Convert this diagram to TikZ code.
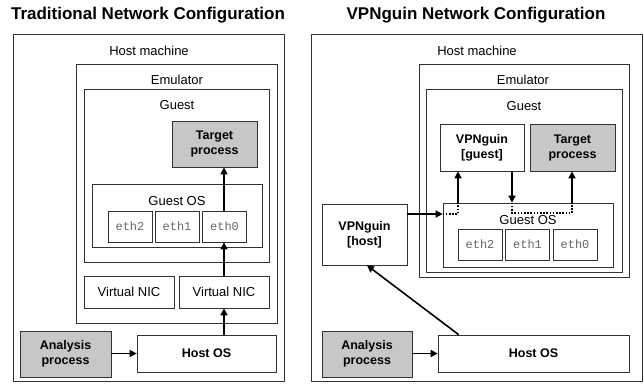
\documentclass[tikz,border=0pt]{standalone}
\usepackage{fontspec}
\setmainfont{Liberation Sans}
\setmonofont{Liberation Mono}
\usepackage{tikz}
\usetikzlibrary{arrows.meta, positioning}
\tikzstyle{block} = [draw=black!80, line width=0.7pt, rectangle, inner sep=0pt,
    font=\fontsize{13}{15}\selectfont, align=center]
\tikzstyle{frame} = [block, line width=0.9pt]
\tikzstyle{proc} = [block, font=\bfseries\fontsize{12.5}{15}\selectfont]
\tikzstyle{grayproc} = [proc, fill=black!22]
\tikzstyle{ethbox} = [block, minimum width=44pt, minimum height=31pt,
    text=black!60, font=\ttfamily\fontsize{12}{14}\selectfont]
\tikzstyle{caption} = [inner sep=0pt, font=\fontsize{13}{15}\selectfont]
\tikzstyle{title} = [inner sep=0pt, font=\bfseries\fontsize{17}{20}\selectfont]
\tikzstyle{sendArrow} = [line width=1.6pt, -{Triangle[length=7pt, width=7pt]}]
\tikzstyle{dotLine} = [line width=1.6pt, dash pattern=on 1.6pt off 1.6pt]

\begin{document}
\begin{tikzpicture}[x=1pt, y=-1pt]
        \useasboundingbox (0,0) rectangle (644,383);

        % traditional setup
        \begin{scope}
        \node[title, name=titleL] at (148,15) (titleL) {Traditional Network Configuration};
        \node[frame, name=hostL, minimum width=271pt, minimum height=347pt] at (148.5,207.5) (hostL) {};
        \node[caption, name=hostTxtL] at (149,51) (hostTxtL) {Host machine};
        \node[frame, name=emuL, minimum width=201pt, minimum height=259pt] at (176.5,193.5) (emuL) {};
        \node[caption, name=emuTxtL] at (177,80) (emuTxtL) {Emulator};
        \node[block, name=guestL, minimum width=185pt, minimum height=173pt] at (176.5,175.5) (guestL) {};
        \node[caption, name=guestTxtL] at (177,105) (guestTxtL) {Guest};
        \node[grayproc, name=targetL, minimum width=85pt, minimum height=46pt] at (214.5,144) (targetL) {Target\\process};
        \node[block, name=gosL, minimum width=170pt, minimum height=63pt] at (177,215.5) (gosL) {};
        \node[caption, name=gosTxtL] at (177,201) (gosTxtL) {Guest OS};
        \node[ethbox, name=ethTwoL] at (130,226.5) (ethTwoL) {eth2};
        \node[ethbox, name=ethOneL] at (177,226.5) (ethOneL) {eth1};
        \node[ethbox, name=ethZeroL] at (224.5,226.5) (ethZeroL) {eth0};
        \node[block, name=nicOneL, minimum width=90pt, minimum height=32pt] at (129,292) (nicOneL) {Virtual NIC};
        \node[block, name=nicTwoL, minimum width=90pt, minimum height=32pt] at (224,292) (nicTwoL) {Virtual NIC};
        \node[grayproc, name=anaL, minimum width=91pt, minimum height=46pt] at (65.5,354) (anaL) {Analysis\\process};
        \node[proc, name=hostosL, minimum width=139pt, minimum height=37pt] at (206.5,353.5) (hostosL) {Host OS};

            \draw[sendArrow] (anaL.east |- hostosL) -- (hostosL.west);
            \draw[sendArrow] (hostosL.north -| nicTwoL) -- (nicTwoL.south);
            \draw[sendArrow] (nicTwoL.north) -- (ethZeroL.south -| nicTwoL);
            \draw[sendArrow] (ethZeroL.north -| nicTwoL) -- (targetL.south -| nicTwoL);
        \end{scope}

        % vpnguin setup
        \begin{scope}
        \node[title, name=titleR] at (476,15) (titleR) {VPNguin Network Configuration};
        \node[frame, name=hostR, minimum width=331pt, minimum height=347pt] at (476.5,207.5) (hostR) {};
        \node[caption, name=hostTxtR] at (477,51) (hostTxtR) {Host machine};
        \node[frame, name=emuR, minimum width=210pt, minimum height=213pt] at (524,170.5) (emuR) {};
        \node[caption, name=emuTxtR] at (523,80) (emuTxtR) {Emulator};
        \node[block, name=guestR, minimum width=196pt, minimum height=183pt] at (524,180.5) (guestR) {};
        \node[caption, name=guestTxtR] at (524,106) (guestTxtR) {Guest};
        \node[proc, name=vpngR, minimum width=84pt, minimum height=47pt] at (482,147.5) (vpngR) {VPNguin\\{[guest]}};
        \node[grayproc, name=targetR, minimum width=85pt, minimum height=47pt] at (572.5,147.5) (targetR) {Target\\process};
        \node[block, name=gosR, minimum width=170pt, minimum height=64pt] at (528,235) (gosR) {};
        \node[caption, name=gosTxtR] at (528,220) (gosTxtR) {Guest OS};
        \node[ethbox, name=ethTwoR] at (480,244.5) (ethTwoR) {eth2};
        \node[ethbox, name=ethOneR] at (527.5,244.5) (ethOneR) {eth1};
        \node[ethbox, name=ethZeroR] at (575,244.5) (ethZeroR) {eth0};
        \node[proc, name=vpnhR, minimum width=85pt, minimum height=61pt] at (364.5,234.5) (vpnhR) {VPNguin\\{[host]}};
        \node[grayproc, name=anaR, minimum width=90pt, minimum height=46pt] at (367,354) (anaR) {Analysis\\process};
        \node[proc, name=hostosR, minimum width=191pt, minimum height=37pt] at (533.5,353.5) (hostosR) {Host OS};

        \coordinate (inTurn) at (458,214);
        \coordinate (outTurn) at (512,213);
        \coordinate (tgtTurn) at (572,213);

            \draw[sendArrow] (anaR.east |- hostosR) -- (hostosR.west);
            \draw[sendArrow] ([xshift=21pt]hostosR.north west) -- ([xshift=2.5pt]vpnhR.south);
            \draw[sendArrow] (vpnhR.east |- inTurn) -- (gosR.west |- inTurn);
            \draw[dotLine] (gosR.west |- inTurn) -- (inTurn) -- (inTurn |- gosR.north);
            \draw[sendArrow] (inTurn |- gosR.north) -- (inTurn |- vpngR.south);
            \draw[sendArrow] (outTurn |- vpngR.south) -- (outTurn |- gosR.north);
            \draw[dotLine] (outTurn |- gosR.north) -- (outTurn) -- (tgtTurn) -- (tgtTurn |- gosR.north);
            \draw[sendArrow] (tgtTurn |- gosR.north) -- (tgtTurn |- targetR.south);
        \end{scope}
    \end{tikzpicture}
\end{document}
